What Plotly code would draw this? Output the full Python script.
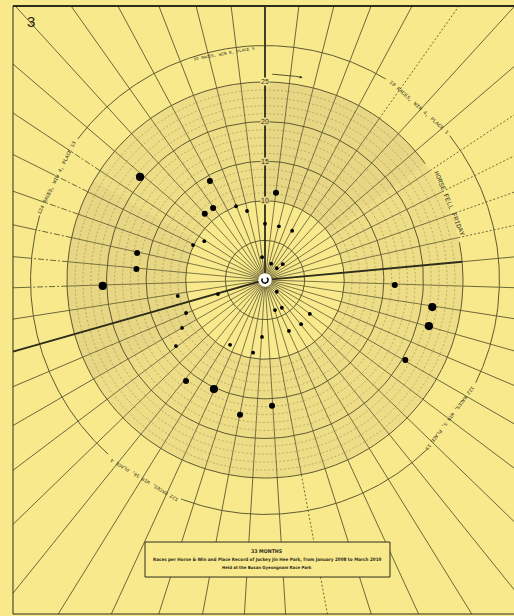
import numpy as np
import plotly.graph_objects as go

# ---------------- data ----------------
N_SPOKES = 51                                   # radial guide lines
ring_major = [5, 10, 15, 20, 25]                # scale rings (races)
ring_minor = [11, 12, 13, 14, 16, 17, 18, 19, 21, 22, 23, 24]
tick_values = [25, 20, 15, 10]
tick_labels = ["25", "20", "15", "10"]

# horses: angle (deg, clockwise from top), races (radius), marker weight
dot_theta = [309.5, 330.9, 317.7, 324.2, 338.6, 345.4, 7.2, 0, 14.5, 28.9,
             281.9, 274.9, 267.9, 295.9, 302.6, 352.6, 20.6, 45, 48.4, 259.6,
             253.4, 135, 247.3, 240, 233.4, 208.3, 161.6, 148.7, 127.1, 140.7,
             154.8, 183, 218, 205.1, 190.5, 176.8, 189.3, 92.2, 99.2, 105.7,
             119.7]
dot_r = [20.45, 14.3, 11.3, 11.2, 10.0, 9.0, 11.1, 7.1, 7.0, 7.1,
         16.5, 16.3, 20.5, 10.1, 9.1, 2.9, 2.2, 2.1, 3.0, 11.2,
         6.2, 2.1, 10.8, 12.1, 14.0, 9.3, 4.0, 4.1, 7.1, 7.2,
         7.1, 7.2, 16.2, 15.2, 17.3, 15.9, 9.3, 16.4, 21.4, 21.5,
         20.4]
dot_weight = [3, 2, 2, 2, 1, 1, 2, 1, 1, 1,
              2, 2, 3, 1, 1, 1, 1, 1, 1, 1,
              1, 1, 1, 1, 1, 1, 1, 1, 1, 1,
              1, 1, 2, 3, 2, 2, 1, 2, 3, 3,
              2]

horse_labels = ["33 RACES, WIN 8, PLACE 5",
                "19 RACES, WIN 4, PLACE 1",
                "HORSE FELL FRIDAY",
                "122 RACES, WIN 5, PLACE 13",
                "122 RACES, WIN 16, PLACE 4",
                "124 RACES, WIN 4, PLACE 13"]
title_lines = ["33 MONTHS",
               "Races per Horse & Win and Place Record of Jockey Jin Hee Park, from January 2008 to March 2010",
               "Held at the Busan Gyeongnam Race Park"]
page_number = "3"

# ---------------- layout / style ----------------
PAPER = "#f8e98c"
SHADE = "#eddd87"
SHADE2 = "#e7d683"
INK = "#5e5931"
DARK = "#2e2c1a"
DOT = "#000000"

label_theta = [-10.2, 41.8, 67.3, 126.7, 211.2, 296.1]
label_r = [29.1, 29.2, 25.2, 29.1, 29.4, 29.2]
label_size = [4.3, 5.4, 6.8, 5.0, 5.0, 5.2]
outer_r = 29.6
outer_arcs = [(-2, 31), (52, 116), (136, 201), (222, 286), (307, 358)]
ring25_gap = (54, 79)
bold_full = [0, 36]
bold_inner = [12]
dotted_outer = [5, 8, 9, 10, 11, 24]
dashed_outer = [38, 39, 40, 41, 42, 43]
marker_px = {1: 3.8, 2: 6.0, 3: 8.2}

X0, X1 = -33.46, 31.44
Y0, Y1 = -42.42, 35.35
FR_L, FR_R, FR_T, FR_B = -31.82, 40.0, 34.6, -42.17


def pol(r, t):
    t = np.radians(np.asarray(t, float))
    r = np.asarray(r, float)
    return r * np.sin(t), r * np.cos(t)


def arc(r, t0, t1, n=160):
    return pol(np.full(n, r), np.linspace(t0, t1, n))


def ray_len(t):
    dx, dy = np.sin(np.radians(t)), np.cos(np.radians(t))
    c = []
    if dx < -1e-9:
        c.append(FR_L / dx)
    if dx > 1e-9:
        c.append(FR_R / dx)
    if dy > 1e-9:
        c.append(FR_T / dy)
    if dy < -1e-9:
        c.append(FR_B / dy)
    return min(c)


def seg_trace(segs, width, color, dash="solid", opacity=1.0):
    xs, ys = [], []
    for x, y in segs:
        xs += list(x) + [None]
        ys += list(y) + [None]
    return go.Scatter(x=xs, y=ys, mode="lines",
                      line=dict(width=width, color=color, dash=dash),
                      opacity=opacity, hoverinfo="skip", showlegend=False)


def sector(r0, r1, t0, t1, color):
    xo, yo = arc(r1, t0, t1)
    xi, yi = arc(r0, t1, t0)
    return go.Scatter(x=list(xo) + list(xi), y=list(yo) + list(yi),
                      fill="toself", fillcolor=color, mode="lines",
                      line=dict(width=0, color=color),
                      hoverinfo="skip", showlegend=False)


fig = go.Figure()

# shaded ring
fig.add_trace(sector(10, 25, 0, 360, SHADE))
fig.add_trace(sector(10, 25, 0, 54, SHADE2))
fig.add_trace(sector(10, 25, 240, 300, SHADE2))

# minor rings
fig.add_trace(seg_trace([arc(r, 0, 360) for r in ring_minor], 0.6, INK, "2px,2px", 0.55))
# major rings
maj = []
for r in ring_major:
    if r == 25:
        maj.append(arc(r, ring25_gap[1], 360 + ring25_gap[0]))
    else:
        maj.append(arc(r, 0, 360))
fig.add_trace(seg_trace(maj, 1.0, INK))
# outer ring arcs
fig.add_trace(seg_trace([arc(outer_r, a, b) for a, b in outer_arcs], 1.0, INK))

# spokes
inner, outer_solid, outer_dot, outer_dash, bold = [], [], [], [], []
for i in range(N_SPOKES):
    t = i * 360.0 / N_SPOKES
    L = ray_len(t)
    if i in bold_full:
        bold.append(pol([0.8, L], [t, t]))
        continue
    if i in bold_inner:
        bold.append(pol([0.8, 25], [t, t]))
    else:
        inner.append(pol([0.8, 25], [t, t]))
    seg = pol([25, L], [t, t])
    if i in dotted_outer:
        outer_dot.append(seg)
    elif i in dashed_outer:
        outer_dash.append(pol([25, outer_r], [t, t]))
        outer_solid.append(pol([outer_r, L], [t, t]))
    else:
        outer_solid.append(seg)
fig.add_trace(seg_trace(inner, 0.8, INK))
fig.add_trace(seg_trace(outer_solid, 0.9, INK))
fig.add_trace(seg_trace(outer_dot, 0.9, INK, "2px,2px"))
fig.add_trace(seg_trace(outer_dash, 0.9, INK, "6px,2px,2px,2px"))
fig.add_trace(seg_trace(bold, 1.8, DARK))

# small arrow above 25
fig.add_trace(seg_trace([arc(26.0, 2, 9.5)], 0.8, DARK))

# dots
dx, dy = pol(dot_r, dot_theta)
fig.add_trace(go.Scatter(x=dx, y=dy, mode="markers",
                         marker=dict(size=[marker_px[w] for w in dot_weight],
                                     color=DOT, opacity=1, line=dict(width=0)),
                         hoverinfo="skip", showlegend=False))

# centre
cx, cy = arc(0.85, 0, 360)
fig.add_trace(go.Scatter(x=cx, y=cy, fill="toself", fillcolor="white", mode="lines",
                         line=dict(width=0, color="white"), hoverinfo="skip", showlegend=False))
fig.add_trace(seg_trace([arc(0.4, 40, 300)], 1.5, DOT))

shapes = [
    dict(type="rect", xref="x", yref="y", x0=FR_L, x1=FR_R, y0=FR_B, y1=FR_T,
         line=dict(color=DARK, width=1), layer="above"),
    dict(type="line", xref="x", yref="y", x0=FR_L, x1=FR_R, y0=FR_T, y1=FR_T,
         line=dict(color=DARK, width=2), layer="above"),
    dict(type="rect", xref="x", yref="y", x0=-15.15, x1=15.78, y0=-37.5, y1=-33.08,
         fillcolor=PAPER, line=dict(color=DARK, width=1), layer="above"),
]

ann = []
ax_, ay_ = pol(26.0, 9.0)
hx, hy = pol(26.0, 10.5)
ann.append(dict(x=float(hx), y=float(hy), ax=float(ax_), ay=float(ay_), xref="x", yref="y",
                axref="x", ayref="y", text="", showarrow=True, arrowhead=2,
                arrowsize=0.7, arrowwidth=0.8, arrowcolor=DARK))
for v, s in zip(tick_values, tick_labels):
    ann.append(dict(x=0, y=v, xref="x", yref="y", text=s, showarrow=False,
                    font=dict(size=7, color=DARK, family="Liberation Sans"),
                    bgcolor=PAPER if v == 25 else SHADE2, borderpad=0))
for txt, t, r, sz in zip(horse_labels, label_theta, label_r, label_size):
    x, y = pol(r, t)
    ang = ((t + 180) % 360) - 180
    ann.append(dict(x=float(x), y=float(y), xref="x", yref="y", text=txt,
                    showarrow=False, textangle=ang,
                    font=dict(size=sz, color=DARK, family="Liberation Mono")))
for txt, y, sz in zip(title_lines, [-34.2, -35.23, -36.24], [5.2, 4.6, 4.3]):
    ann.append(dict(x=0.3, y=y, xref="x", yref="y", text="<b>" + txt + "</b>",
                    showarrow=False, font=dict(size=sz, color=DARK, family="DejaVu Sans Condensed")))
ann.append(dict(x=-29.6, y=32.6, xref="x", yref="y", text=page_number, showarrow=False,
                font=dict(size=15, color="#1e1d12", family="Liberation Sans")))

fig.update_layout(
    width=514, height=616, margin=dict(l=0, r=0, t=0, b=0),
    paper_bgcolor=PAPER, plot_bgcolor=PAPER,
    xaxis=dict(range=[X0, X1], visible=False, fixedrange=True),
    yaxis=dict(range=[Y0, Y1], visible=False, fixedrange=True),
    shapes=shapes, annotations=ann, showlegend=False, hovermode=False,
)
fig.write_html("out.html", config={"displayModeBar": False, "staticPlot": True},
               post_script="document.body.style.margin='0';document.body.style.overflow='hidden';")
